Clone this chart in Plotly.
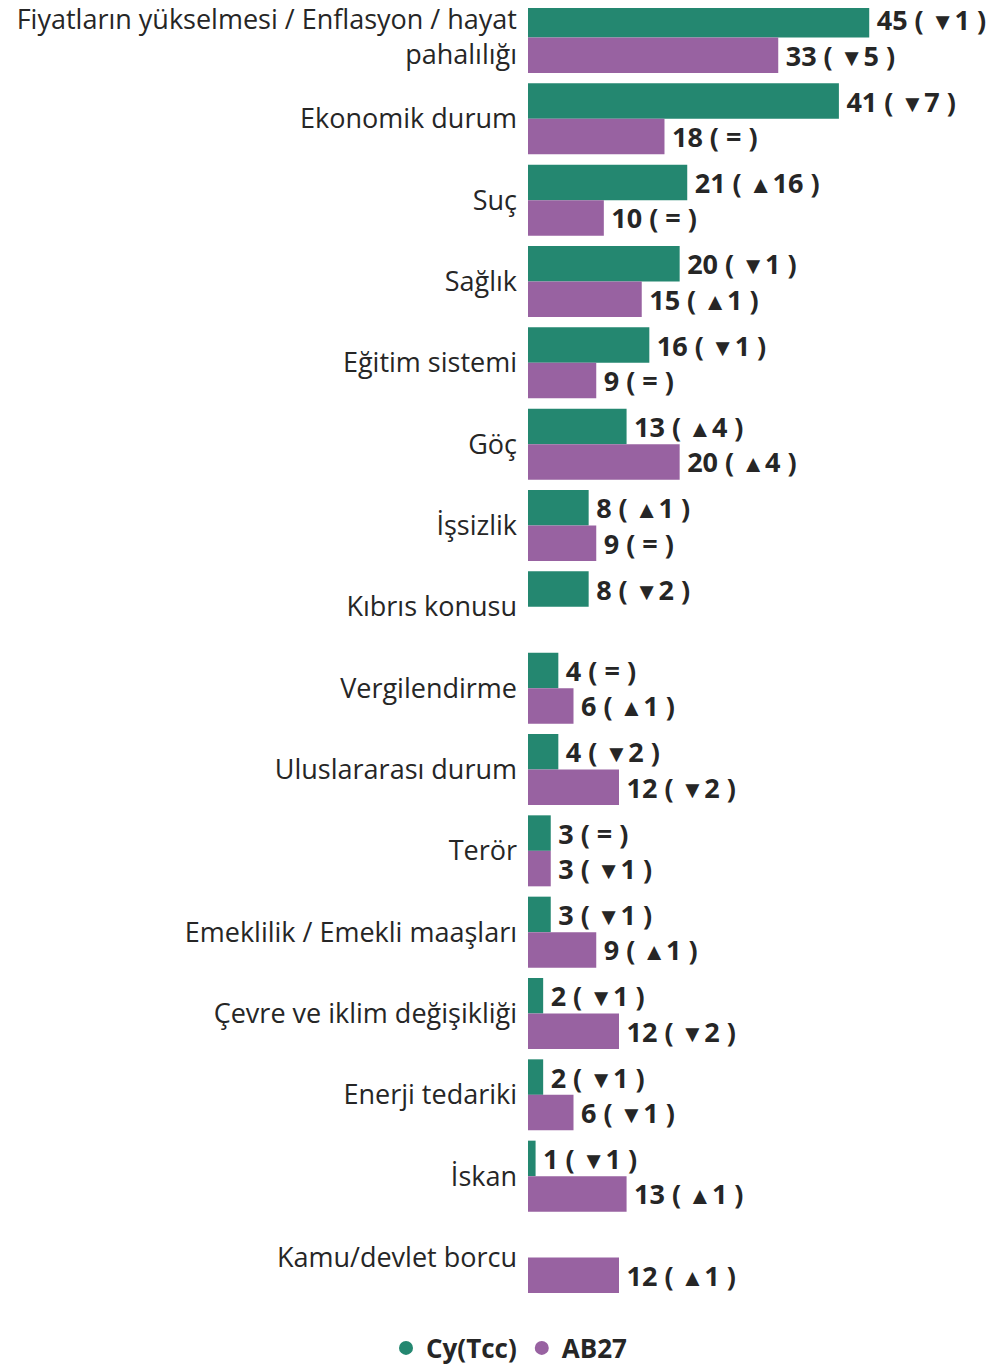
import plotly.graph_objects as go

# Kategoriler (yukarıdan aşağıya)
categories = [
    "Fiyatların yükselmesi / Enflasyon / hayat<br>pahalılığı",
    "Ekonomik durum",
    "Suç",
    "Sağlık",
    "Eğitim sistemi",
    "Göç",
    "İşsizlik",
    "Kıbrıs konusu",
    "Vergilendirme",
    "Uluslararası durum",
    "Terör",
    "Emeklilik / Emekli maaşları",
    "Çevre ve iklim değişikliği",
    "Enerji tedariki",
    "İskan",
    "Kamu/devlet borcu",
]

cy_values = [45, 41, 21, 20, 16, 13, 8, 8, 4, 4, 3, 3, 2, 2, 1, None]
cy_change = [-1, -7, 16, -1, -1, 4, 1, -2, 0, -2, 0, -1, -1, -1, -1, None]

eu_values = [33, 18, 10, 15, 9, 20, 9, None, 6, 12, 3, 9, 12, 6, 13, 12]
eu_change = [-5, 0, 0, 1, 0, 4, 0, None, 1, -2, -1, 1, -2, -1, 1, 1]

GREEN = "#248770"
PURPLE = "#9862a1"
TEXT = "#262626"


def label(v, c):
    if v is None:
        return ""
    if c == 0:
        return f"\u2009{v} ( = )"
    tri = "▲" if c > 0 else "▼"
    return f"\u2009{v} (\u00a0<span style='font-size:24px'>{tri}</span>{abs(c)} )"


fig = go.Figure()
for name, vals, chg, col in [
    ("Cy(Tcc)", cy_values, cy_change, GREEN),
    ("AB27", eu_values, eu_change, PURPLE),
]:
    fig.add_trace(go.Bar(
        y=categories, x=[0 if v is None else v for v in vals],
        name=name, orientation="h",
        marker=dict(color=col, line=dict(width=0)),
        text=[label(v, c) for v, c in zip(vals, chg)],
        textposition="outside", cliponaxis=False, constraintext="none",
        textfont=dict(family="Open Sans", size=27, color=TEXT, weight="bold"),
        showlegend=False,
    ))

# legend with round markers, on hidden axes
for name, col in [("Cy(Tcc)", GREEN), ("AB27", PURPLE)]:
    fig.add_trace(go.Scatter(
        x=[-10], y=[-10], mode="markers", name=name,
        marker=dict(color=col, size=14, symbol="circle"),
        xaxis="x2", yaxis="y2", hoverinfo="skip",
    ))

fig.update_layout(
    template="none",
    width=1003, height=1364,
    margin=dict(l=520, r=3, t=0, b=74, autoexpand=False),
    barmode="group", bargap=0.127, bargroupgap=0,
    plot_bgcolor="white", paper_bgcolor="white",
    font=dict(family="Open Sans", color=TEXT),
    legend=dict(
        orientation="h", x=0.5, xanchor="center", xref="container",
        y=0.0176, yanchor="middle", yref="container",
        font=dict(size=26, weight="bold", color=TEXT),
    ),
    xaxis=dict(range=[0, 63.3], visible=False, showgrid=False, automargin=False),
    yaxis=dict(
        range=[15.498, -0.3627], showgrid=False, showline=False, ticks="",
        tickfont=dict(size=27, color=TEXT), ticklabelstandoff=10,
        automargin=False,
    ),
    xaxis2=dict(overlaying="x", range=[0, 1], visible=False),
    yaxis2=dict(overlaying="y", range=[0, 1], visible=False),
)

fig.write_html("out.html")
